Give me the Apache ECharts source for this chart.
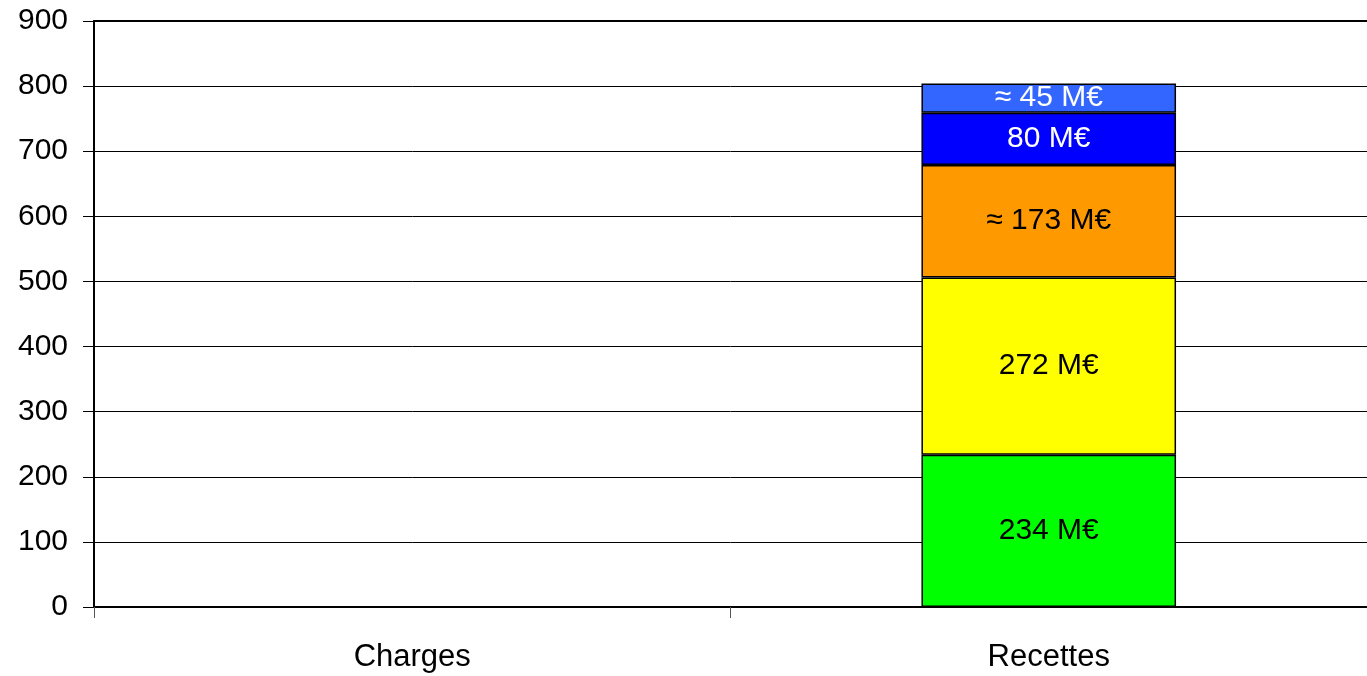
<!DOCTYPE html>
<html><head><meta charset="utf-8">
<script src="https://cdn.jsdelivr.net/npm/echarts@6/dist/echarts.min.js"></script>
<style>html,body{margin:0;padding:0;background:#fff}#c{width:1367px;height:676px}</style>
</head><body><div id="c"></div>
<script>
var categories = ['Charges', 'Recettes'];
var yTicks = {min: 0, max: 900, interval: 100};
var seriesNames = ['s1', 's2', 's3', 's4', 's5'];
var s1 = [null, 234];
var s2 = [null, 272];
var s3 = [null, 173];
var s4 = [null, 80];
var s5 = [null, 45];
var labels = ['234 M€', '272 M€', '≈ 173 M€', '80 M€', '≈ 45 M€'];
var colors = ['#00FF00', '#FFFF00', '#FF9900', '#0000FF', '#3366FF'];
var labelColors = ['#000', '#000', '#000', '#fff', '#fff'];
var values = [s1, s2, s3, s4, s5];

var font = 'Liberation Sans, Arial, sans-serif';
var series = values.map(function (v, i) {
  return {
    name: seriesNames[i], type: 'bar', stack: 'total', data: v,
    barWidth: '40%',
    itemStyle: {color: colors[i], borderColor: '#000', borderWidth: 1.5},
    label: {show: true, position: 'inside', formatter: labels[i], color: labelColors[i],
            fontFamily: font, fontSize: 30},
    animation: false
  };
});

var chart = echarts.init(document.getElementById('c'));
chart.setOption({
  animation: false,
  grid: {left: 94, right: 0, top: 21, bottom: 69},
  xAxis: [{
    type: 'category', data: categories,
    axisLine: {lineStyle: {color: '#000', width: 2}},
    axisTick: {show: true, length: 11, lineStyle: {color: '#555', width: 1}},
    axisLabel: {color: '#000', fontFamily: font, fontSize: 31, margin: 35}
  }, {
    type: 'category', data: categories, position: 'top',
    axisLine: {show: true, lineStyle: {color: '#000', width: 2}},
    axisTick: {show: false}, axisLabel: {show: false}
  }],
  yAxis: {
    type: 'value', min: yTicks.min, max: yTicks.max, interval: yTicks.interval,
    axisLine: {show: true, lineStyle: {color: '#000', width: 2}},
    axisTick: {show: true, length: 11, lineStyle: {color: '#000', width: 1}},
    splitLine: {show: true, lineStyle: {color: '#000', width: 1}},
    axisLabel: {color: '#000', fontFamily: font, fontSize: 30, margin: 26}
  },
  series: series
});
</script></body></html>
